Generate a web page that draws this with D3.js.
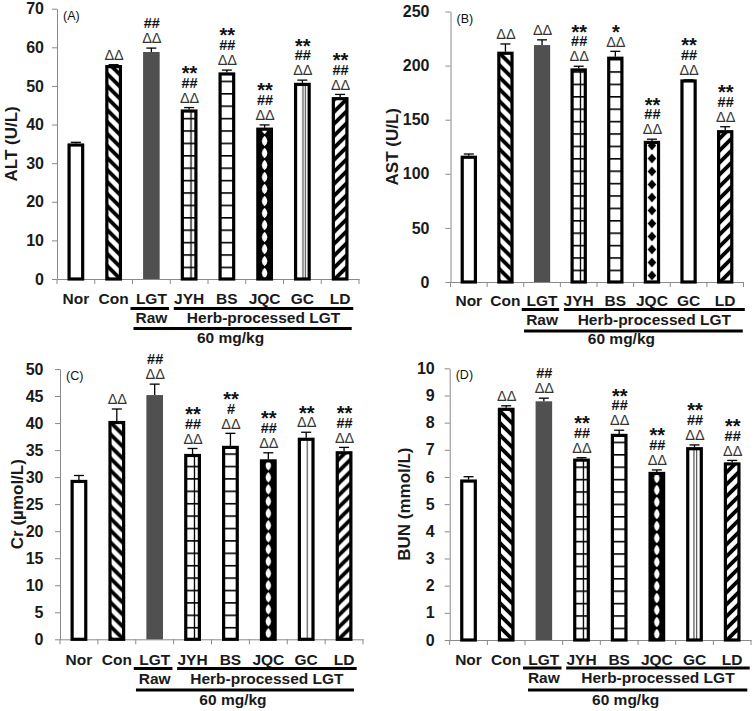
<!DOCTYPE html>
<html><head><meta charset="utf-8">
<script src="https://cdn.jsdelivr.net/npm/d3@7"></script>
<style>body{margin:0;background:#fff} svg{display:block}</style>
</head><body>
<svg id="chart" width="756" height="711"></svg>
<script>
// ---------------- DATA ----------------
const categories = ["Nor","Con","LGT","JYH","BS","JQC","GC","LD"];

const altMean = [34.7, 55.0, 58.4, 43.5, 53.1, 38.8, 50.4, 46.7];
const altSem  = [0.7, 0.5, 1.4, 0.9, 1.0, 1.1, 1.1, 1.1];
const altTicks = [0,10,20,30,40,50,60,70];
const altMarks = [[],["ΔΔ"],["##","ΔΔ"],["**","##","ΔΔ"],["**","##","ΔΔ"],["**","##","ΔΔ"],["**","##","ΔΔ"],["**","##","ΔΔ"]];

const astMean = [115.3, 211.4, 217.6, 196.0, 206.8, 129.0, 185.8, 138.9];
const astSem  = [3.0, 8.6, 6.2, 3.4, 6.4, 3.0, 1.0, 4.6];
const astTicks = [0,50,100,150,200,250];
const astMarks = [[],["ΔΔ"],["ΔΔ"],["**","##","ΔΔ"],["*","ΔΔ"],["**","##","ΔΔ"],["**","##","ΔΔ"],["**","##","ΔΔ"]];

const crMean = [29.2, 40.1, 44.9, 34.0, 35.5, 33.0, 37.0, 34.5];
const crSem  = [1.1, 2.5, 2.3, 1.3, 2.6, 1.5, 1.3, 1.0];
const crTicks = [0,5,10,15,20,25,30,35,40,45,50];
const crMarks = [[],["ΔΔ"],["##","ΔΔ"],["**","##","ΔΔ"],["**","#","ΔΔ"],["**","##","ΔΔ"],["**","ΔΔ"],["**","##","ΔΔ"]];

const bunMean = [5.85, 8.49, 8.73, 6.62, 7.53, 6.13, 7.04, 6.48];
const bunSem  = [0.16, 0.13, 0.17, 0.09, 0.19, 0.13, 0.14, 0.13];
const bunTicks = [0,1,2,3,4,5,6,7,8,9,10];
const bunMarks = [[],["ΔΔ"],["##","ΔΔ"],["**","##","ΔΔ"],["**","##","ΔΔ"],["**","##","ΔΔ"],["**","##","ΔΔ"],["**","##","ΔΔ"]];

const groupRaw = "Raw";
const groupHerb = "Herb-processed LGT";
const doseLabel = "60 mg/kg";

// ---------------- STYLE / LAYOUT ----------------
const barTypes = ["white","back","gray","grid","hlines","dots","vlines","fwd"];
const FONT = "Arial, 'Liberation Sans', Helvetica, sans-serif";
const AXIS = "#8a8a8a";
const TXT = "#1a1a1a";

const panels = [
 {id:"A", tag:"(A)", label:"ALT (U/L)", mean:altMean, sem:altSem, ticks:altTicks, marks:altMarks, max:70,
  x0:57, x1:359, yb:279, yt:8.7, labX:11, tickPad:8,
  rows:{cat:304, line:308.5, raw:322.5, bot:328.5, mg:343}, herbEnd:-5.7, botStart:1, botEnd:-7.3,
  dots:"white", gc:[0.55,0.78]},
 {id:"B", tag:"(B)", label:"AST (U/L)", mean:astMean, sem:astSem, ticks:astTicks, marks:astMarks, max:250,
  x0:450.5, x1:743.5, yb:282, yt:11.5, labX:392, tickPad:16,
  rows:{cat:306, line:309.5, raw:325, bot:331, mg:344}, herbEnd:1.3, botStart:0.3, botEnd:-0.7,
  dots:"black", gc:[]},
 {id:"C", tag:"(C)", label:"Cr (µmol/L)", mean:crMean, sem:crSem, ticks:crTicks, marks:crMarks, max:50,
  x0:60, x1:363, yb:639.3, yt:369, labX:17.5, tickPad:11.5,
  rows:{cat:665, line:668.5, raw:683.5, bot:690, mg:705}, herbEnd:-6.3, botStart:0.2, botEnd:-9,
  dots:"white", gc:[0.6]},
 {id:"D", tag:"(D)", label:"BUN (mmol/L)", mean:bunMean, sem:bunSem, ticks:bunTicks, marks:bunMarks, max:10,
  x0:449.7, x1:751, yb:640, yt:368.3, labX:404, tickPad:10,
  rows:{cat:665, line:668, raw:683, bot:690, mg:705}, herbEnd:-1.3, botStart:3, botEnd:-3.7,
  dots:"white", gc:[0.45,0.7]}
];

const svg = d3.select("#chart");
const defs = svg.append("defs");

function makePattern(p, i, type, ix, iw, yb){
  const id = `pat-${p.id}-${i}`;
  const pat = defs.append("pattern").attr("id", id).attr("patternUnits","userSpaceOnUse");
  if(type==="back" || type==="fwd"){
    pat.attr("x", ix).attr("y", yb).attr("width",12).attr("height",12);
    pat.append("rect").attr("width",12).attr("height",12).attr("fill","#fff");
    const d = type==="back" ? "M-2,-2L14,14 M-2,10L2,14 M10,-2L14,2" : "M-2,14L14,-2 M-2,2L2,-2 M10,14L14,10";
    pat.append("path").attr("d", d).attr("stroke","#000").attr("stroke-width",3.8);
  } else if(type==="grid" || type==="hlines"){
    const h = 12.4;
    pat.attr("x", ix).attr("y", yb).attr("width", iw).attr("height", h);
    pat.append("rect").attr("width", iw).attr("height", h).attr("fill","#fff");
    pat.append("line").attr("x1",0).attr("x2",iw).attr("y1",0.8).attr("y2",0.8).attr("stroke","#000").attr("stroke-width",1.6);
    if(type==="grid") pat.append("line").attr("x1",iw*0.68).attr("x2",iw*0.68).attr("y1",0).attr("y2",h).attr("stroke","#000").attr("stroke-width",1.3);
  } else if(type==="dots"){
    const h = p.dots==="black" ? 13 : 12;
    pat.attr("x", ix).attr("y", yb).attr("width", iw).attr("height", h);
    if(p.dots==="black"){
      pat.append("rect").attr("width", iw).attr("height", h).attr("fill","#fff");
      const cx = iw/2, cy = h/2;
      pat.append("path").attr("d",`M${cx},${cy-5}L${cx+4.3},${cy}L${cx},${cy+5}L${cx-4.3},${cy}Z`).attr("fill","#000");
    } else {
      pat.append("rect").attr("width", iw).attr("height", h).attr("fill","#000");
      pat.append("path").attr("d",`M${iw/2},${h/2-5.2}Q${iw/2+5.6},${h/2} ${iw/2},${h/2+5.2}Q${iw/2-5.6},${h/2} ${iw/2},${h/2-5.2}Z`).attr("fill","#fff");
    }
  } else if(type==="vlines"){
    pat.attr("x", ix).attr("y", yb).attr("width", iw).attr("height", 10);
    pat.append("rect").attr("width", iw).attr("height", 10).attr("fill","#fff");
    p.gc.forEach(f => pat.append("line").attr("x1",iw*f).attr("x2",iw*f).attr("y1",0).attr("y2",10).attr("stroke","#333").attr("stroke-width",1));
  } else {
    return "#fff";
  }
  return `url(#${id})`;
}

function drawPanel(p){
  const g = svg.append("g").attr("font-family", FONT);
  const x = d3.scaleBand().domain(categories).range([p.x0, p.x1]).padding(0);
  const y = d3.scaleLinear().domain([0, p.max]).range([p.yb, p.yt]);
  const step = x.bandwidth();
  const bw = step * 0.36;

  // y axis
  const ya = g.append("g").attr("transform", `translate(${p.x0},0)`)
    .call(d3.axisLeft(y).tickValues(p.ticks).tickSize(5).tickSizeOuter(0).tickPadding(p.tickPad).tickFormat(d3.format("d")));
  ya.select(".domain").attr("stroke", AXIS).attr("stroke-width",1);
  ya.selectAll(".tick line").attr("stroke", AXIS);
  ya.selectAll(".tick text").attr("font-family", FONT).attr("font-size",16).attr("font-weight","bold").attr("fill",TXT);

  // x axis
  const xa = g.append("g").attr("transform", `translate(0,${p.yb})`)
    .call(d3.axisBottom(x).tickValues([]).tickSizeOuter(0));
  xa.select(".domain").attr("stroke", AXIS);
  const bounds = categories.map(c => x(c)).concat([p.x1]);
  g.selectAll(null).data(bounds).join("line")
    .attr("x1", d => d).attr("x2", d => d).attr("y1", p.yb).attr("y2", p.yb + 5)
    .attr("stroke", AXIS);

  // bars
  categories.forEach((c, i) => {
    const cx = x(c) + step/2;
    const v = p.mean[i];
    const type = barTypes[i];
    const top = y(v);
    if(type === "gray"){
      g.append("rect").attr("x", cx - (bw+3)/2).attr("y", top - 1.5).attr("width", bw + 3)
        .attr("height", p.yb - top + 1.5).attr("fill", "#505050");
    } else {
      const fill = makePattern(p, i, type, cx - bw/2 + 1.5, bw - 3, p.yb);
      g.append("rect").attr("x", cx - bw/2).attr("y", top).attr("width", bw)
        .attr("height", p.yb - top).attr("fill", fill).attr("stroke", "#000").attr("stroke-width", 3.2);
    }
    // error bar
    const et = y(v + p.sem[i]);
    g.append("line").attr("x1", cx).attr("x2", cx).attr("y1", top - 1.5).attr("y2", et).attr("stroke","#000").attr("stroke-width",1.3);
    g.append("line").attr("x1", cx - 5).attr("x2", cx + 5).attr("y1", et).attr("y2", et).attr("stroke","#000").attr("stroke-width",1.3);
    // significance marks (one text block per bar)
    const marks = p.marks[i].slice().reverse();
    if(marks.length){
      const t = g.append("text").attr("x", cx + 0.5).attr("text-anchor","middle");
      marks.forEach((m, k) => {
        const cy = et - 10 - k * 15;
        const isStar = m.includes("*");
        const isHash = m.includes("#");
        const fs = isStar ? 20 : 14.5;
        const base = isStar ? cy + fs * 0.62 : cy + fs * 0.36;
        t.append("tspan").attr("x", cx + 0.5).attr("y", base)
          .attr("font-size", fs).attr("font-weight", isHash || isStar ? "bold" : "normal")
          .attr("fill", isStar || isHash ? "#111" : "#333").text(m);
      });
    }
  });

  // category labels
  g.selectAll(null).data(categories).join("text")
    .attr("x", d => x(d) + step/2).attr("y", p.rows.cat).attr("text-anchor","middle")
    .attr("font-size",15.5).attr("font-weight","bold").attr("fill",TXT).text(d => d);

  // group lines
  const lgtX = x("LGT"), jyhX = x("JYH");
  const l1 = [lgtX - 2, lgtX + step - 1.2];
  const l2 = [jyhX + 3.5, p.x1 + p.herbEnd];
  const l3 = [lgtX + p.botStart, p.x1 + p.botEnd];
  [[l1, p.rows.line],[l2, p.rows.line],[l3, p.rows.bot]].forEach(([r, yy]) => {
    g.append("line").attr("x1", r[0]).attr("x2", r[1]).attr("y1", yy).attr("y2", yy).attr("stroke","#000").attr("stroke-width",3);
  });
  g.append("text").attr("x", lgtX + step/2).attr("y", p.rows.raw).attr("text-anchor","middle")
    .attr("font-size",15.5).attr("font-weight","bold").attr("fill",TXT).text(groupRaw);
  g.append("text").attr("x", (l2[0]+l2[1])/2).attr("y", p.rows.raw).attr("text-anchor","middle")
    .attr("font-size",15.5).attr("font-weight","bold").attr("fill",TXT).text(groupHerb);
  g.append("text").attr("x", (l3[0]+l3[1])/2 - 12).attr("y", p.rows.mg).attr("text-anchor","middle")
    .attr("font-size",15.5).attr("font-weight","bold").attr("fill",TXT).text(doseLabel);

  // y label
  g.append("text").attr("transform", `translate(${p.labX},${(p.yb + p.yt)/2}) rotate(-90)`)
    .attr("text-anchor","middle").attr("dominant-baseline","central")
    .attr("font-size",17).attr("font-weight","bold").attr("fill",TXT).text(p.label);

  // panel tag
  g.append("text").attr("x", p.x0 + 6).attr("y", p.yt + 11).attr("font-size",12.5).attr("fill","#111").text(p.tag);
}

panels.forEach(drawPanel);
</script>
</body></html>
